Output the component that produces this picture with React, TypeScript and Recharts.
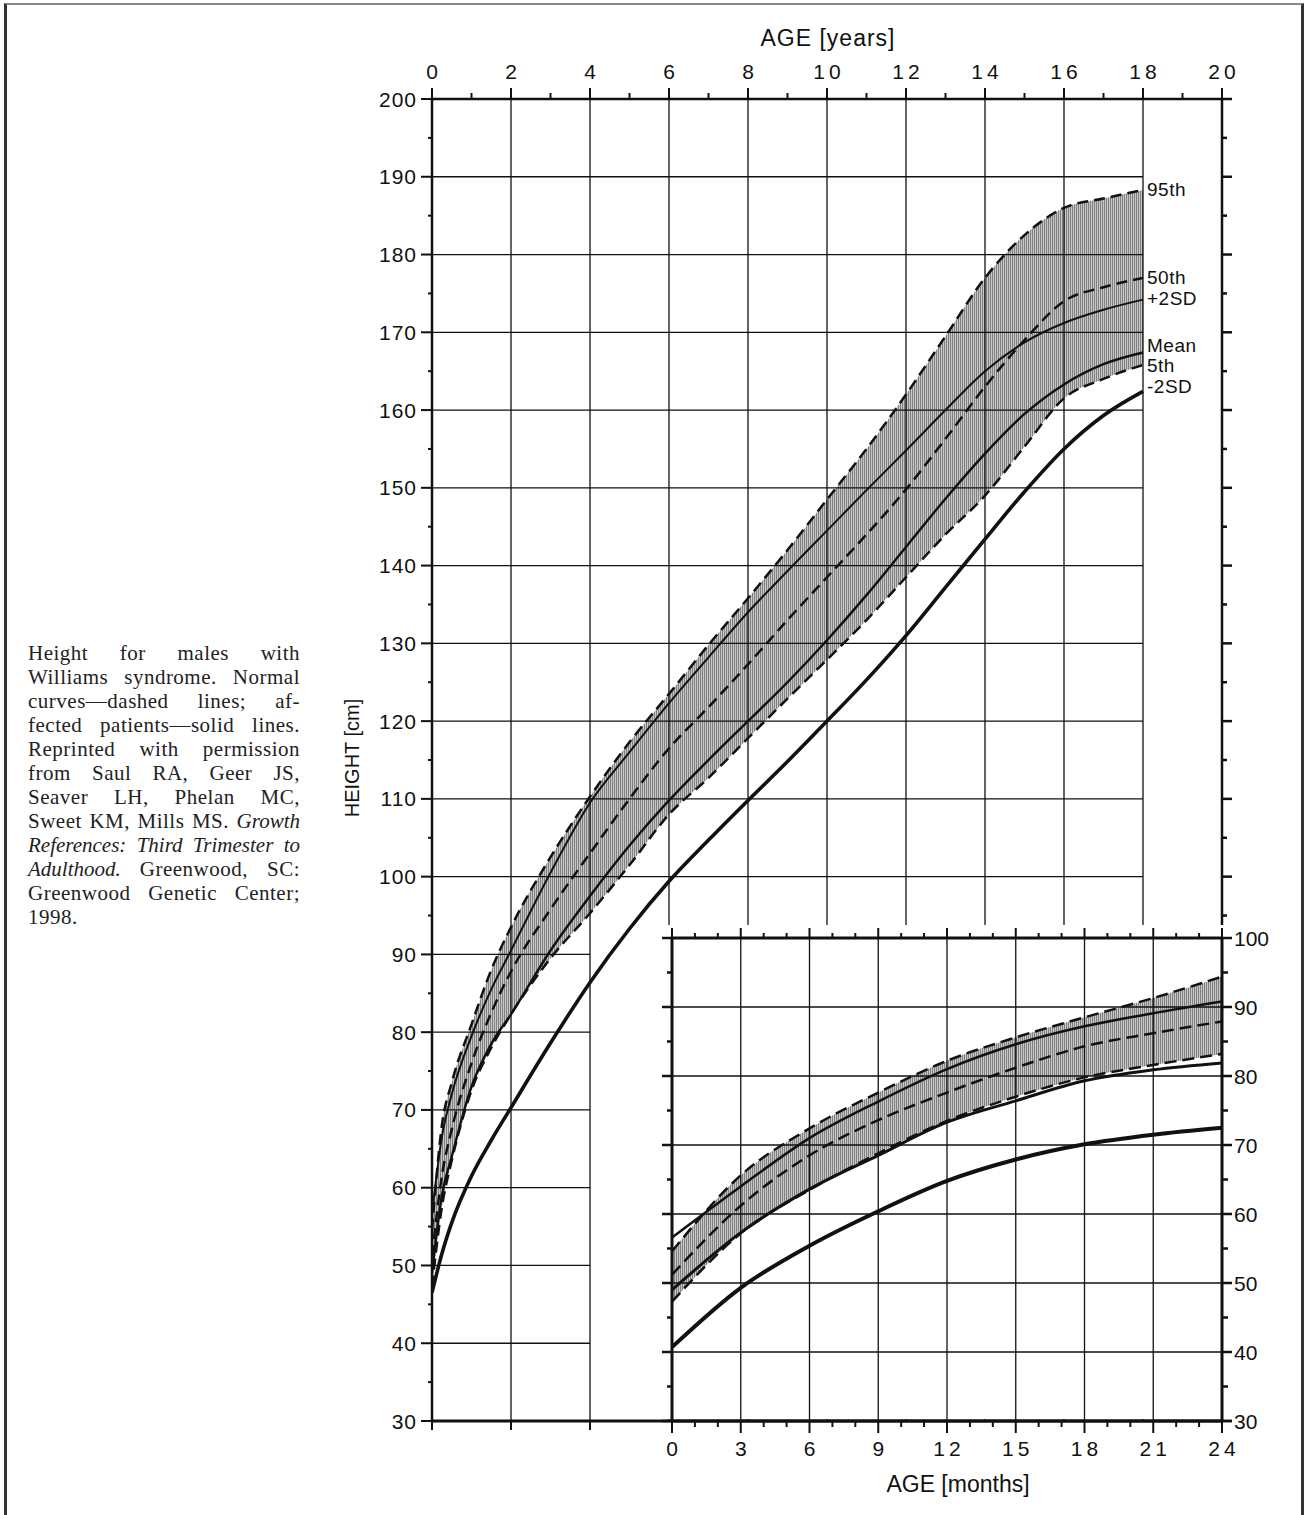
import React from 'react';
import { ComposedChart, Line, Area, XAxis, YAxis, ReferenceLine } from 'recharts';

// ---- main chart (age in years) ----
const ages = [0, 0.25, 0.5, 1, 1.5, 2, 3, 4, 5, 6, 7, 8, 9, 10, 11, 12, 13, 14, 15, 16, 17, 18];
const p95 = [54.6, 68, 73.5, 81, 88, 93.5, 102.5, 110.3, 117.3, 123.5, 129.8, 135.8, 142, 148.5, 155, 162, 169.5, 177, 182.5, 186, 187.2, 188.3];
const p50 = [51.2, 61.5, 67.5, 76, 82.5, 87.8, 95.8, 103, 110, 116.5, 121.8, 127.3, 133, 138.5, 144, 149.8, 156.3, 163, 169, 174, 175.8, 177];
const p5 = [47.3, 57.5, 63.5, 72.5, 78, 82.3, 89.5, 95.3, 101.5, 108, 112.7, 117.8, 122.9, 127.9, 133, 138.5, 144, 149, 155.3, 161.5, 164, 165.8];
const sdPlus = [56.6, 66.5, 72, 79.5, 85.5, 90.5, 100.5, 109.5, 116, 122.3, 128.2, 134, 139.3, 144.5, 149.7, 154.8, 160, 165, 168.7, 171.2, 172.9, 174.2];
const mean = [49, 59, 64, 73, 78.5, 82.3, 90.5, 97.5, 104, 109.8, 115, 120, 125, 130.4, 136.2, 142.4, 148.6, 154.4, 159.5, 163.3, 165.9, 167.4];
const sdMinus = [46.5, 51.5, 55.5, 61.5, 66.1, 70.3, 78.6, 86.4, 93.3, 99.4, 104.7, 109.8, 114.8, 120, 125.3, 131, 137.2, 143.4, 149.5, 155, 159.3, 162.4];

const yearTicks = [0, 1, 2, 3, 4, 5, 6, 7, 8, 9, 10, 11, 12, 13, 14, 15, 16, 17, 18, 19, 20];
const bottomYearTicks = [0, 2, 4];
const heightTicks = [30, 35, 40, 45, 50, 55, 60, 65, 70, 75, 80, 85, 90, 95, 100, 105, 110, 115, 120, 125, 130, 135, 140, 145, 150, 155, 160, 165, 170, 175, 180, 185, 190, 195, 200];
const upperGrid = [100, 110, 120, 130, 140, 150, 160, 170, 180, 190];
const lowerGrid = [40, 50, 60, 70, 80, 90];
const yearGrid = [2, 4, 6, 8, 10, 12, 14, 16, 18];

// ---- inset (age in months) ----
const months = [0, 3, 6, 9, 12, 15, 18, 21, 24];
const infP95 = [54.6, 65.6, 72.4, 77.6, 82.2, 85.6, 88.5, 91.3, 94.4];
const infP50 = [51.2, 61.2, 68.5, 73.6, 77.6, 81.2, 84.3, 86.2, 87.9];
const infP5 = [47.3, 57.2, 63.5, 68.8, 73.5, 77.0, 79.8, 81.6, 83.2];
const infSdPlus = [56.6, 64.0, 71.0, 76.3, 81.0, 84.6, 87.2, 89.1, 90.8];
const infMean = [49.0, 57.3, 63.6, 68.5, 73.3, 76.4, 79.3, 80.9, 81.9];
const infSdMinus = [40.7, 49.3, 55.4, 60.4, 64.8, 67.9, 70.1, 71.5, 72.5];

const monthTicks = [0, 1, 2, 3, 4, 5, 6, 7, 8, 9, 10, 11, 12, 13, 14, 15, 16, 17, 18, 19, 20, 21, 22, 23, 24];
const infHeightTicks = [30, 35, 40, 45, 50, 55, 60, 65, 70, 75, 80, 85, 90, 95, 100];
const monthGrid = [3, 6, 9, 12, 15, 18, 21];
const infGrid = [40, 50, 60, 70, 80, 90];

const endLabels = [
  { key: 'p95', name: '95th', dy: 0 },
  { key: 'p50', name: '50th', dy: 0 },
  { key: 'sdPlus', name: '+2SD', dy: -1 },
  { key: 'mean', name: 'Mean', dy: -7 },
  { key: 'p5', name: '5th', dy: 1 },
  { key: 'sdMinus', name: '-2SD', dy: -5 },
];

const mainData = ages.map((age, i) => ({
  age,
  p95: p95[i],
  p50: p50[i],
  p5: p5[i],
  sdPlus: sdPlus[i],
  mean: mean[i],
  sdMinus: sdMinus[i],
  band: [p5[i], p95[i]],
}));

const infData = months.map((m, i) => ({
  m,
  p95: infP95[i],
  p50: infP50[i],
  p5: infP5[i],
  sdPlus: infSdPlus[i],
  mean: infMean[i],
  sdMinus: infSdMinus[i],
  band: [infP5[i], infP95[i]],
}));

const FONT = '"Liberation Sans", Arial, Helvetica, sans-serif';
const SERIF = '"Liberation Serif", "Times New Roman", serif';
const INK = '#111';

// ---- custom ticks ----
const MainTopTick = (p: any) => {
  const v = p.payload.value;
  const major = v % 2 === 0;
  return (
    <g>
      <line x1={p.x} x2={p.x} y1={p.y} y2={p.y - (major ? 11 : 6)} stroke={INK} strokeWidth={2} />
      {major && (
        <text x={p.x + 2} y={p.y - 28} textAnchor="middle" dominantBaseline="central" fontSize={21} fontFamily={FONT} letterSpacing={4} fill={INK}>
          {v}
        </text>
      )}
    </g>
  );
};

const MainBottomTick = (p: any) => (
  <line x1={p.x} x2={p.x} y1={p.y} y2={p.y + 9} stroke={INK} strokeWidth={2} />
);

const MainLeftTick = (p: any) => {
  const v = p.payload.value;
  const major = v % 10 === 0;
  return (
    <g>
      <line x1={p.x - (major ? 11 : 4)} x2={p.x} y1={p.y} y2={p.y} stroke={INK} strokeWidth={2} />
      {major && (
        <text x={p.x - 15} y={p.y} textAnchor="end" dominantBaseline="central" fontSize={21} fontFamily={FONT} letterSpacing={1} fill={INK}>
          {v}
        </text>
      )}
    </g>
  );
};

const MainRightTick = (p: any) => {
  const major = p.payload.value % 10 === 0;
  return <line x1={p.x} x2={p.x + (major ? 10 : 5)} y1={p.y} y2={p.y} stroke={INK} strokeWidth={2.5} />;
};

const InfTopTick = (p: any) => {
  const major = p.payload.value % 3 === 0;
  return <line x1={p.x} x2={p.x} y1={p.y} y2={p.y - (major ? 10 : 5)} stroke={INK} strokeWidth={2} />;
};

const InfBottomTick = (p: any) => {
  const v = p.payload.value;
  const major = v % 3 === 0;
  return (
    <g>
      <line x1={p.x} x2={p.x} y1={p.y} y2={p.y + (major ? 12 : 6)} stroke={INK} strokeWidth={2} />
      {major && (
        <text x={p.x + 2} y={p.y + 27} textAnchor="middle" dominantBaseline="central" fontSize={21} fontFamily={FONT} letterSpacing={4} fill={INK}>
          {v}
        </text>
      )}
    </g>
  );
};

const InfLeftTick = (p: any) => {
  const major = p.payload.value % 10 === 0;
  return <line x1={p.x - (major ? 10 : 5)} x2={p.x} y1={p.y} y2={p.y} stroke={INK} strokeWidth={2.5} />;
};

const InfRightTick = (p: any) => {
  const v = p.payload.value;
  const major = v % 10 === 0;
  return (
    <g>
      <line x1={p.x} x2={p.x + (major ? 10 : 6)} y1={p.y} y2={p.y} stroke={INK} strokeWidth={2.5} />
      {major && (
        <text x={p.x + 12} y={p.y} textAnchor="start" dominantBaseline="central" fontSize={21} fontFamily={FONT} fill={INK}>
          {v}
        </text>
      )}
    </g>
  );
};

const endLabel = (name: string, dy: number, last: number) => (p: any) =>
  p.index === last ? (
    <text x={p.x + 4} y={p.y + dy} dominantBaseline="central" fontSize={19} letterSpacing={0.5} fontFamily={FONT} fill={INK}>
      {name}
    </text>
  ) : (
    <g />
  );

const hatch = (id: string) => (
  <defs>
    <pattern id={id} width="2" height="4" patternUnits="userSpaceOnUse">
      <rect width="2" height="4" fill="#c8c8c8" />
      <rect width="1" height="4" fill="#808080" />
    </pattern>
  </defs>
);

const dashed = { stroke: INK, strokeWidth: 2.5, strokeDasharray: '11 6' };

function MainChart() {
  const last = ages.length - 1;
  const styleFor = (key: string) => {
    if (key === 'p95' || key === 'p50' || key === 'p5') return dashed;
    if (key === 'sdMinus') return { stroke: INK, strokeWidth: 3.6 };
    if (key === 'mean') return { stroke: INK, strokeWidth: 2.4 };
    return { stroke: INK, strokeWidth: 2 };
  };
  return (
    <ComposedChart
      width={1308}
      height={1515}
      data={mainData}
      margin={{ top: 59, right: 66, bottom: 74, left: 372 }}
    >
      {hatch('hatchMain')}
      <XAxis
        xAxisId="top"
        orientation="top"
        dataKey="age"
        type="number"
        domain={[0, 20]}
        ticks={yearTicks}
        interval={0}
        height={40}
        tickSize={0}
        tickMargin={0}
        tick={MainTopTick}
        tickLine={false}
        axisLine={{ stroke: INK, strokeWidth: 2.5 }}
        allowDataOverflow
      />
      <XAxis
        xAxisId="bottom"
        orientation="bottom"
        dataKey="age"
        type="number"
        domain={[0, 20]}
        ticks={bottomYearTicks}
        interval={0}
        height={20}
        tickSize={0}
        tickMargin={0}
        tick={MainBottomTick}
        tickLine={false}
        axisLine={{ stroke: INK, strokeWidth: 3 }}
        allowDataOverflow
      />
      <YAxis
        yAxisId="left"
        type="number"
        domain={[30, 200]}
        ticks={heightTicks}
        interval={0}
        width={60}
        tickSize={0}
        tickMargin={0}
        tick={MainLeftTick}
        tickLine={false}
        axisLine={{ stroke: INK, strokeWidth: 2.5 }}
        allowDataOverflow
      />
      <YAxis
        yAxisId="right"
        orientation="right"
        type="number"
        domain={[30, 200]}
        ticks={heightTicks}
        interval={0}
        width={20}
        tickSize={0}
        tickMargin={0}
        tick={MainRightTick}
        tickLine={false}
        axisLine={{ stroke: INK, strokeWidth: 2.5 }}
        allowDataOverflow
      />
      <Area
        xAxisId="top"
        yAxisId="left"
        dataKey="band"
        type="monotone"
        stroke="none"
        fill="url(#hatchMain)"
        fillOpacity={1}
        isAnimationActive={false}
        activeDot={false}
      />
      {upperGrid.map((h) => (
        <ReferenceLine
          key={'u' + h}
          xAxisId="top"
          yAxisId="left"
          segment={[{ x: 0, y: h }, { x: 18, y: h }]}
          stroke={INK}
          strokeWidth={1.3}
        />
      ))}
      {lowerGrid.map((h) => (
        <ReferenceLine
          key={'l' + h}
          xAxisId="top"
          yAxisId="left"
          segment={[{ x: 0, y: h }, { x: 4, y: h }]}
          stroke={INK}
          strokeWidth={1.3}
        />
      ))}
      {yearGrid.map((a) => (
        <ReferenceLine key={'v' + a} xAxisId="top" yAxisId="left" x={a} stroke={INK} strokeWidth={1.3} />
      ))}
      {endLabels.map((s) => (
        <Line
          key={s.key}
          xAxisId="top"
          yAxisId="left"
          dataKey={s.key}
          type="monotone"
          dot={false}
          activeDot={false}
          fill="none"
          {...styleFor(s.key)}
          label={endLabel(s.name, s.dy, last)}
          isAnimationActive={false}
        />
      ))}
    </ComposedChart>
  );
}

function InsetChart() {
  const styleFor = (key: string) => {
    if (key === 'p95' || key === 'p50' || key === 'p5') return { stroke: INK, strokeWidth: 2.5, strokeDasharray: '12 6' };
    if (key === 'sdMinus') return { stroke: INK, strokeWidth: 4 };
    if (key === 'mean') return { stroke: INK, strokeWidth: 3 };
    return { stroke: INK, strokeWidth: 2.5 };
  };
  return (
    <ComposedChart
      width={708}
      height={615}
      data={infData}
      margin={{ top: 18, right: 26, bottom: 44, left: 52 }}
    >
      {hatch('hatchInf')}
      <XAxis
        xAxisId="t"
        orientation="top"
        dataKey="m"
        type="number"
        domain={[0, 24]}
        ticks={monthTicks}
        interval={0}
        height={20}
        tickSize={0}
        tickMargin={0}
        tick={InfTopTick}
        tickLine={false}
        axisLine={{ stroke: INK, strokeWidth: 3 }}
        allowDataOverflow
      />
      <XAxis
        xAxisId="b"
        orientation="bottom"
        dataKey="m"
        type="number"
        domain={[0, 24]}
        ticks={monthTicks}
        interval={0}
        height={50}
        tickSize={0}
        tickMargin={0}
        tick={InfBottomTick}
        tickLine={false}
        axisLine={{ stroke: INK, strokeWidth: 3 }}
        allowDataOverflow
      />
      <YAxis
        yAxisId="l"
        type="number"
        domain={[30, 100]}
        ticks={infHeightTicks}
        interval={0}
        width={20}
        tickSize={0}
        tickMargin={0}
        tick={InfLeftTick}
        tickLine={false}
        axisLine={{ stroke: INK, strokeWidth: 3 }}
        allowDataOverflow
      />
      <YAxis
        yAxisId="r"
        orientation="right"
        type="number"
        domain={[30, 100]}
        ticks={infHeightTicks}
        interval={0}
        width={60}
        tickSize={0}
        tickMargin={0}
        tick={InfRightTick}
        tickLine={false}
        axisLine={{ stroke: INK, strokeWidth: 3 }}
        allowDataOverflow
      />
      <Area
        xAxisId="t"
        yAxisId="l"
        dataKey="band"
        type="monotone"
        stroke="none"
        fill="url(#hatchInf)"
        fillOpacity={1}
        isAnimationActive={false}
        activeDot={false}
      />
      {infGrid.map((h) => (
        <ReferenceLine key={'h' + h} xAxisId="t" yAxisId="l" y={h} stroke={INK} strokeWidth={1.3} />
      ))}
      {monthGrid.map((m) => (
        <ReferenceLine key={'v' + m} xAxisId="t" yAxisId="l" x={m} stroke={INK} strokeWidth={1.3} />
      ))}
      {endLabels.map((s) => (
        <Line
          key={s.key}
          xAxisId="t"
          yAxisId="l"
          dataKey={s.key}
          type="monotone"
          dot={false}
          activeDot={false}
          fill="none"
          {...styleFor(s.key)}
          isAnimationActive={false}
        />
      ))}
    </ComposedChart>
  );
}

const captionLines: React.ReactNode[] = [
  'Height for males with',
  'Williams syndrome. Normal',
  'curves\u2014dashed lines; af-',
  'fected patients\u2014solid lines.',
  'Reprinted with permission',
  'from Saul RA, Geer JS,',
  'Seaver LH, Phelan MC,',
  <>Sweet KM, Mills MS. <i style={{ letterSpacing: 0 }}>Growth</i></>,
  <i style={{ letterSpacing: 0 }}>References: Third Trimester to</i>,
  <><i style={{ letterSpacing: 0 }}>Adulthood.</i> Greenwood, SC:</>,
  'Greenwood Genetic Center;',
  '1998.',
];

export default function App() {
  const abs = (left: number, top: number): React.CSSProperties => ({ position: 'absolute', left, top });
  return (
    <div style={{ position: 'absolute', left: 0, top: 0, width: 1308, height: 1515, overflow: 'hidden', background: '#fff' }}>
      {/* page frame */}
      <div
        style={{
          ...abs(4, 3),
          width: 1294,
          height: 1530,
          borderTop: '2px solid #888',
          borderLeft: '3px solid #333',
          borderRight: '3px solid #333',
        }}
      />
      <div style={{ ...abs(28, 641), width: 272, fontFamily: SERIF, fontSize: 21, lineHeight: '24px', letterSpacing: 0.5, color: '#222' }}>
        {captionLines.map((ln, i) => (
          <div
            key={i}
            style={{
              textAlign: 'justify',
              textAlignLast: i === captionLines.length - 1 ? 'left' : 'justify',
              whiteSpace: 'nowrap',
            }}
          >
            {ln}
          </div>
        ))}
      </div>
      <div style={abs(0, 0)}>
        <MainChart />
      </div>
      <div style={{ ...abs(658, 925), width: 582, height: 494, background: '#fff' }} />
      <div style={abs(600, 900)}>
        <InsetChart />
      </div>
      <div style={{ ...abs(628, 24), width: 400, textAlign: 'center', fontFamily: FONT, fontSize: 23, lineHeight: '28px', letterSpacing: 1, color: INK }}>
        AGE [years]
      </div>
      <div
        style={{
          ...abs(152, 745),
          width: 400,
          textAlign: 'center',
          fontFamily: FONT,
          fontSize: 20,
          lineHeight: '26px',
          color: INK,
          transform: 'rotate(-90deg)',
        }}
      >
        HEIGHT [cm]
      </div>
      <div style={{ ...abs(758, 1470), width: 400, textAlign: 'center', fontFamily: FONT, fontSize: 23, lineHeight: '28px', color: INK }}>
        AGE [months]
      </div>
    </div>
  );
}
